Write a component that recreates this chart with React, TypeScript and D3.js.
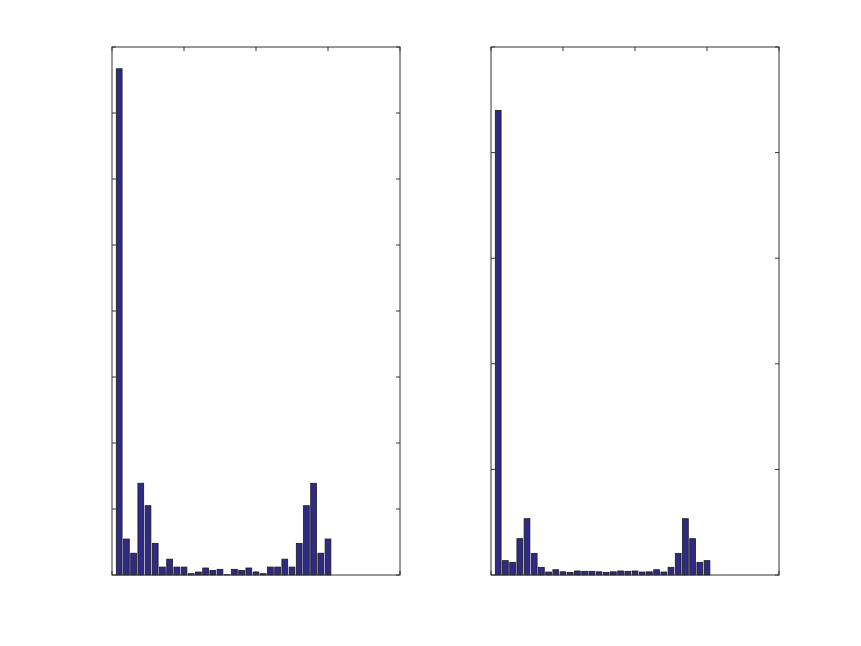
import { useEffect, useRef } from "react";
import * as d3 from "d3";

// bin index 1..30
const bins = d3.range(1, 31);

const leftValues = [
  7.67, 0.545, 0.33, 1.39, 1.05, 0.48, 0.12, 0.24, 0.12, 0.12,
  0.02, 0.045, 0.106, 0.07, 0.086, 0.005, 0.086, 0.07, 0.106, 0.045,
  0.02, 0.12, 0.12, 0.24, 0.12, 0.48, 1.05, 1.39, 0.33, 0.545,
];

const rightValues = [
  4.4, 0.136, 0.12, 0.344, 0.533, 0.205, 0.073, 0.028, 0.05, 0.03,
  0.025, 0.038, 0.035, 0.035, 0.03, 0.025, 0.03, 0.038, 0.035, 0.038,
  0.028, 0.03, 0.05, 0.028, 0.073, 0.205, 0.533, 0.344, 0.12, 0.136,
];

const xTicks = [0, 10, 20, 30, 40];
const leftYTicks = d3.range(0, 9);
const rightYTicks = d3.range(0, 6);

const panels = [
  { left: 112, values: leftValues, yMax: 8, yTicks: leftYTicks },
  { left: 491, values: rightValues, yMax: 5, yTicks: rightYTicks },
];

export default function App() {
  const svgRef = useRef<SVGSVGElement>(null);

  useEffect(() => {
    document.body.style.margin = "0";
    const el = svgRef.current;
    if (!el) return;
    const svg = d3.select(el);
    svg.selectAll("*").remove();

    const top = 47;
    const bottom = 575;
    const w = 288;
    const tl = 4; // tick length

    panels.forEach((p) => {
      const xs = d3.scaleLinear().domain([0, 40]).range([p.left, p.left + w]);
      const ys = d3.scaleLinear().domain([0, p.yMax]).range([bottom, top]);
      const g = svg.append("g");
      const bw = (xs(1) - xs(0)) * 0.8;

      g.selectAll("rect.bar")
        .data(bins)
        .enter()
        .append("rect")
        .attr("class", "bar")
        .attr("x", (d) => xs(d) - bw / 2)
        .attr("width", bw)
        .attr("y", (d, i) => ys(p.values[i]))
        .attr("height", (d, i) => ys(0) - ys(p.values[i]))
        .attr("fill", "#2f2a85")
        .attr("stroke", "#1a1a1a")
        .attr("stroke-width", 0.8);

      // box
      g.append("rect")
        .attr("x", xs(0))
        .attr("y", top)
        .attr("width", w)
        .attr("height", bottom - top)
        .attr("fill", "none")
        .attr("stroke", "#333")
        .attr("stroke-width", 1);

      // x ticks top and bottom, inward
      xTicks.forEach((t) => {
        g.append("line")
          .attr("x1", xs(t)).attr("x2", xs(t))
          .attr("y1", top).attr("y2", top + tl)
          .attr("stroke", "#333");
        g.append("line")
          .attr("x1", xs(t)).attr("x2", xs(t))
          .attr("y1", bottom).attr("y2", bottom - tl)
          .attr("stroke", "#333");
      });
      // y ticks left and right, inward
      p.yTicks.forEach((t) => {
        g.append("line")
          .attr("x1", xs(0)).attr("x2", xs(0) + tl)
          .attr("y1", ys(t)).attr("y2", ys(t))
          .attr("stroke", "#333");
        g.append("line")
          .attr("x1", xs(40)).attr("x2", xs(40) - tl)
          .attr("y1", ys(t)).attr("y2", ys(t))
          .attr("stroke", "#333");
      });
    });
  }, []);

  return (
    <svg
      ref={svgRef}
      width={861}
      height={646}
      style={{ display: "block", background: "#fff" }}
    />
  );
}
